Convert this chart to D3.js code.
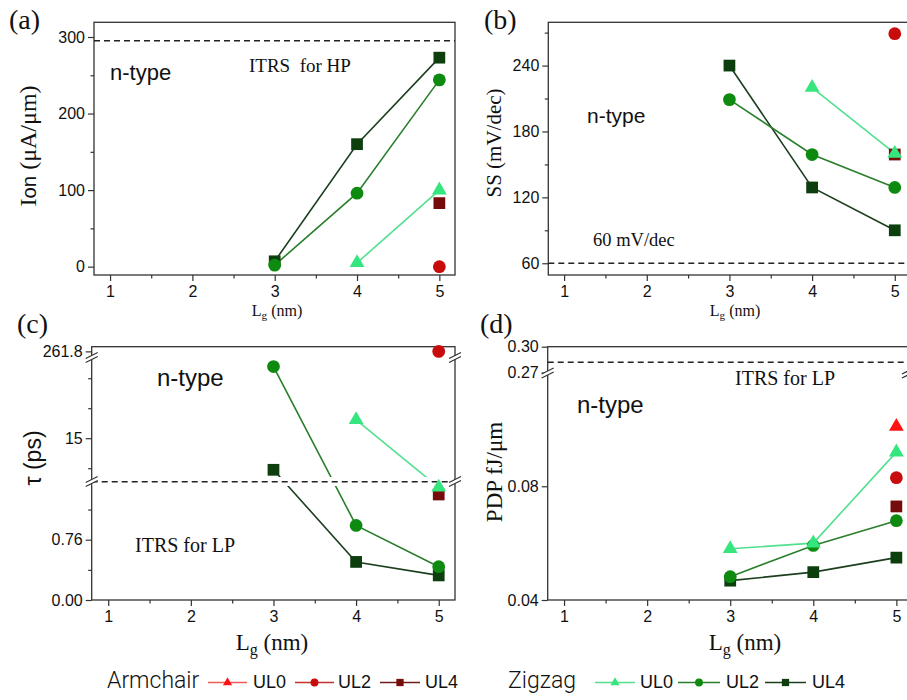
<!DOCTYPE html>
<html lang="en">
<head>
<meta charset="UTF-8">
<title>Ion / SS / tau / PDP vs Lg</title>
<script src="https://d3js.org/d3.v7.min.js"></script>
<style>
  body { margin: 0; background: #fff; }
  text { fill: #111; }
</style>
</head>
<body>
<svg width="907" height="700"></svg>

<script>
    // gate lengths (nm)
    const lengths = [3, 4, 5];
    const xTicks = [1, 2, 3, 4, 5];
    const xMinor = [1.5, 2.5, 3.5, 4.5];

    // (a) Ion, uA/um
    const ionArmUL2 = [null, null, 0];
    const ionArmUL4 = [null, null, 83];
    const ionZzUL0 = [null, 5, 100];
    const ionZzUL2 = [2, 96, 244];
    const ionZzUL4 = [7, 160, 273];
    const ionITRS = 295;
    const ionTicks = [0, 100, 200, 300];
    const ionMinor = [50, 150, 250];

    // (b) SS, mV/dec
    const ssArmUL2 = [null, null, 269];
    const ssArmUL4 = [null, null, 159];
    const ssZzUL0 = [null, 220, 160];
    const ssZzUL2 = [209, 159, 129];
    const ssZzUL4 = [240, 129, 90];
    const ssLimit = 60;
    const ssTicks = [60, 120, 180, 240];
    const ssMinor = [90, 150, 210, 270];

    // (c) tau, ps (broken axis)
    const tauArmUL2 = [null, null, 261.8];
    const tauArmUL4 = [null, null, 1.33];
    const tauZzUL0 = [null, 19.6, 1.42];
    const tauZzUL2 = [32.9, 0.94, 0.42];
    const tauZzUL4 = [7.1, 0.48, 0.31];
    const tauITRS = 1.49;
    const tauTicks = [0, 0.76, 15, 261.8];
    const tauLabels = ["0.00", "0.76", "15", "261.8"];
    const tauMinor = [0.38, 1.14, 7.5, 22.5, 30];

    // (d) PDP, fJ/um (broken axis)
    const pdpArmUL0 = [null, null, 0.101];
    const pdpArmUL2 = [null, null, 0.083];
    const pdpArmUL4 = [null, null, 0.0729];
    const pdpZzUL0 = [0.058, 0.060, 0.092];
    const pdpZzUL2 = [0.0482, 0.0592, 0.0679];
    const pdpZzUL4 = [0.0468, 0.0498, 0.0549];
    const pdpITRS = 0.282;
    const pdpTicks = [0.04, 0.08, 0.27, 0.30];
    const pdpLabels = ["0.04", "0.08", "0.27", "0.30"];

    const serif = "'Liberation Serif','Times New Roman',serif";
    const sans = "'Liberation Sans',Arial,sans-serif";

    const styles = {
        armUL0: {marker: "#ff1212", line: "#ec5a5a", shape: d3.symbolTriangle},
        armUL2: {marker: "#c80c0c", line: "#c43030", shape: d3.symbolCircle},
        armUL4: {marker: "#760b0b", line: "#6e1c1c", shape: d3.symbolSquare},
        zzUL0:  {marker: "#34e67d", line: "#52e08f", shape: d3.symbolTriangle},
        zzUL2:  {marker: "#0e8a10", line: "#2a7e2c", shape: d3.symbolCircle},
        zzUL4:  {marker: "#0c3e0e", line: "#1d3f1f", shape: d3.symbolSquare}
    };
    const bigSize = {triangle: 95, circle: 128, square: 138};
    function symSize(shape, big) {
        const k = shape === d3.symbolTriangle ? "triangle" : shape === d3.symbolCircle ? "circle" : "square";
        return big ? bigSize[k] : bigSize[k] * 0.38;
    }

    const svg = d3.select("svg");

    function breakMark(g, x, y) {
        g.append("path")
            .attr("d", `M${x - 6},${y + 1.5} L${x + 6},${y - 4.5} L${x + 6},${y - 0.5} L${x - 6},${y + 5.5} Z`)
            .attr("fill", "#fff");
        g.append("path")
            .attr("d", `M${x - 6},${y + 1.5} L${x + 6},${y - 4.5} M${x - 6},${y + 5.5} L${x + 6},${y - 0.5}`)
            .attr("stroke", "#333").attr("stroke-width", 1.2).attr("fill", "none");
    }

    function panel(cfg) {
        const g = svg.append("g");
        const b = cfg.box;
        const x = d3.scaleLinear().domain(cfg.xDomain).range([b.l, b.r]);
        const y = cfg.y;

        // frame
        g.append("rect")
            .attr("x", b.l).attr("y", b.t)
            .attr("width", b.r - b.l).attr("height", b.b - b.t)
            .attr("fill", "none").attr("stroke", "#333").attr("stroke-width", 1.3);

        // axes
        const ax = g.append("g").attr("transform", `translate(0,${b.b})`)
            .call(d3.axisBottom(x).tickValues(xTicks).tickFormat(d3.format("d")).tickSize(6).tickPadding(5));
        const axm = g.append("g").attr("transform", `translate(0,${b.b})`)
            .call(d3.axisBottom(x).tickValues(xMinor).tickFormat("").tickSize(3.5));
        const ay = g.append("g").attr("transform", `translate(${b.l},0)`)
            .call(d3.axisLeft(y).tickValues(cfg.yTicks)
                .tickFormat((d, i) => cfg.yLabels ? cfg.yLabels[i] : d)
                .tickSize(6).tickPadding(3));
        const aym = g.append("g").attr("transform", `translate(${b.l},0)`)
            .call(d3.axisLeft(y).tickValues(cfg.yMinor || []).tickFormat("").tickSize(3.5));
        [ax, axm, ay, aym].forEach(a => {
            a.select(".domain").remove();
            a.attr("color", "#333").attr("font-family", sans).attr("font-size", 16);
            a.selectAll("line").attr("stroke-width", 1.2);
            a.selectAll("text").attr("fill", "#111");
        });

        // lines
        const line = d3.line().x(d => x(d.x)).y(d => y(d.y));
        cfg.series.forEach(s => {
            const pts = lengths.map((l, i) => ({x: l, y: s.values[i]})).filter(d => d.y != null);
            if (pts.length > 1) {
                g.append("path").datum(pts)
                    .attr("d", line)
                    .attr("fill", "none")
                    .attr("stroke", styles[s.key].line)
                    .attr("stroke-width", 1.6);
            }
        });

        if (cfg.gapBand) {
            g.append("rect")
                .attr("x", b.l + 1).attr("y", cfg.gapBand[0])
                .attr("width", b.r - b.l - 2).attr("height", cfg.gapBand[1] - cfg.gapBand[0])
                .attr("fill", "#fff");
        }

        // reference dashed line
        g.append("line")
            .attr("x1", b.l).attr("x2", b.r)
            .attr("y1", y(cfg.ref)).attr("y2", y(cfg.ref))
            .attr("stroke", "#222").attr("stroke-width", 1.5)
            .attr("stroke-dasharray", "6,4");

        // markers
        cfg.series.forEach(s => {
            const st = styles[s.key];
            const pts = lengths.map((l, i) => ({x: l, y: s.values[i]})).filter(d => d.y != null);
            g.selectAll(null).data(pts).enter().append("path")
                .attr("d", d3.symbol().type(st.shape).size(symSize(st.shape, true)))
                .attr("transform", d => `translate(${x(d.x)},${y(d.y)})`)
                .attr("fill", st.marker);
        });

        (cfg.breaks || []).forEach(by => {
            breakMark(g, b.l, by);
            breakMark(g, b.r, by);
        });

        // texts
        g.append("text").attr("x", cfg.tag[0]).attr("y", cfg.tag[1])
            .attr("font-family", serif).attr("font-size", 28).text(cfg.tagText);
        g.append("text").attr("x", cfg.ntype[0]).attr("y", cfg.ntype[1])
            .attr("font-family", sans).attr("font-size", cfg.ntype[2]).text("n-type");
        g.append("text").attr("x", cfg.note[0]).attr("y", cfg.note[1])
            .attr("font-family", serif).attr("font-size", cfg.note[2])
            .style("white-space", "pre").text(cfg.noteText);

        const xl = g.append("text").attr("x", cfg.xlab[0]).attr("y", cfg.xlab[1])
            .attr("text-anchor", "middle").attr("font-family", serif).attr("font-size", cfg.xlab[2]);
        xl.append("tspan").text("L");
        xl.append("tspan").attr("font-size", "0.7em").attr("dy", "0.3em").text("g");
        xl.append("tspan").attr("dy", "-0.21em").text(" (nm)");

        const yl = g.append("text")
            .attr("transform", `translate(${cfg.ylab[0]},${cfg.ylab[1]}) rotate(-90)`)
            .attr("text-anchor", "middle").attr("dy", "0.35em")
            .attr("font-family", cfg.ylabFont).attr("font-size", cfg.ylab[2]);
        cfg.ylabParts.forEach(p => {
            const t = yl.append("tspan").text(p.t);
            if (p.sans) t.attr("font-family", sans).attr("font-size", "0.85em");
        });
        return g;
    }

    // (a)
    panel({
        box: {l: 94, r: 455, t: 22.3, b: 275},
        xDomain: [0.805, 5.19],
        y: d3.scaleLinear().domain([-10.9, 319.2]).range([275, 22.3]),
        yTicks: ionTicks, yMinor: ionMinor,
        ref: ionITRS,
        series: [
            {key: "armUL2", values: ionArmUL2},
            {key: "armUL4", values: ionArmUL4},
            {key: "zzUL4", values: ionZzUL4},
            {key: "zzUL2", values: ionZzUL2},
            {key: "zzUL0", values: ionZzUL0}
        ],
        tag: [9, 29], tagText: "(a)",
        ntype: [110, 80, 22],
        note: [249, 72, 19], noteText: "ITRS  for HP",
        xlab: [277, 316, 16],
        ylab: [28, 146, 24], ylabFont: serif,
        ylabParts: [{t: "I"}, {t: "on", sans: true}, {t: " (\u03bcA/\u03bcm)"}]
    });

    // (b)
    panel({
        box: {l: 548.3, r: 908, t: 22.3, b: 275},
        xDomain: [0.809, 5.16],
        y: d3.scaleLinear().domain([49.3, 279.4]).range([275, 22.3]),
        yTicks: ssTicks, yMinor: ssMinor,
        ref: ssLimit,
        series: [
            {key: "armUL2", values: ssArmUL2},
            {key: "armUL4", values: ssArmUL4},
            {key: "zzUL4", values: ssZzUL4},
            {key: "zzUL2", values: ssZzUL2},
            {key: "zzUL0", values: ssZzUL0}
        ],
        tag: [484, 29], tagText: "(b)",
        ntype: [587, 123, 21],
        note: [593, 246, 18.5], noteText: "60 mV/dec",
        xlab: [735, 316, 16],
        ylab: [494, 143, 21], ylabFont: serif,
        ylabParts: [{t: "SS (mV/dec)"}]
    });

    // (c)
    panel({
        box: {l: 91.7, r: 455, t: 346.7, b: 600},
        xDomain: [0.8, 5.197],
        y: d3.scaleLinear().domain([0, 1.5, 4.3, 35.3, 261.2, 262.3])
            .range([600, 481, 481, 357, 357, 346.7]),
        yTicks: tauTicks, yLabels: tauLabels, yMinor: tauMinor,
        ref: tauITRS,
        gapBand: [477, 486],
        breaks: [481, 357],
        series: [
            {key: "armUL2", values: tauArmUL2},
            {key: "armUL4", values: tauArmUL4},
            {key: "zzUL4", values: tauZzUL4},
            {key: "zzUL2", values: tauZzUL2},
            {key: "zzUL0", values: tauZzUL0}
        ],
        tag: [17, 333], tagText: "(c)",
        ntype: [157, 386, 24],
        note: [135, 552, 20], noteText: "ITRS for LP",
        xlab: [272, 650, 23],
        ylab: [32.5, 458, 23], ylabFont: sans,
        ylabParts: [{t: "\u03c4 (ps)"}]
    });

    // (d)
    panel({
        box: {l: 547.7, r: 908, t: 346.7, b: 600},
        xDomain: [0.803, 5.14],
        y: d3.scaleLinear().domain([0.04, 0.12, 0.27, 0.30])
            .range([600, 372.5, 372.5, 346.7]),
        yTicks: pdpTicks, yLabels: pdpLabels,
        ref: pdpITRS,
        breaks: [372.5],
        series: [
            {key: "armUL0", values: pdpArmUL0},
            {key: "armUL2", values: pdpArmUL2},
            {key: "armUL4", values: pdpArmUL4},
            {key: "zzUL4", values: pdpZzUL4},
            {key: "zzUL2", values: pdpZzUL2},
            {key: "zzUL0", values: pdpZzUL0}
        ],
        tag: [480, 333], tagText: "(d)",
        ntype: [577, 413, 24],
        note: [735, 385, 20], noteText: "ITRS for LP",
        xlab: [745, 650, 23],
        ylab: [494, 472, 23], ylabFont: serif,
        ylabParts: [{t: "PDP fJ/\u03bcm"}]
    });

    // legend
    const legendGroups = [
        {title: "Armchair", x: 107, items: [
            {key: "armUL0", label: "UL0", x0: 208, x1: 247, tx: 253},
            {key: "armUL2", label: "UL2", x0: 295, x1: 334, tx: 338},
            {key: "armUL4", label: "UL4", x0: 380, x1: 420, tx: 425}
        ]},
        {title: "Zigzag", x: 508, items: [
            {key: "zzUL0", label: "UL0", x0: 595, x1: 635, tx: 640},
            {key: "zzUL2", label: "UL2", x0: 678, x1: 720, tx: 726},
            {key: "zzUL4", label: "UL4", x0: 765, x1: 806, tx: 812}
        ]}
    ];
    const lgY = 682.5;
    const leg = svg.append("g");
    legendGroups.forEach(grp => {
        leg.append("text").attr("x", grp.x).attr("y", lgY + 5.5)
            .attr("font-family", "Roboto,'Liberation Sans',Arial,sans-serif")
            .attr("font-weight", 300).attr("font-size", 23).text(grp.title);
        grp.items.forEach(it => {
            const st = styles[it.key];
            leg.append("line").attr("x1", it.x0).attr("x2", it.x1)
                .attr("y1", lgY).attr("y2", lgY)
                .attr("stroke", st.line).attr("stroke-width", 1.5);
            leg.append("path")
                .attr("d", d3.symbol().type(st.shape).size(symSize(st.shape, false)))
                .attr("transform", `translate(${(it.x0 + it.x1) / 2},${lgY})`)
                .attr("fill", st.marker);
            leg.append("text").attr("x", it.tx).attr("y", lgY + 5.5)
                .attr("font-family", sans).attr("font-size", 18)
                .attr("textLength", 33).attr("lengthAdjust", "spacingAndGlyphs")
                .text(it.label);
        });
    });
</script>
</body>
</html>
